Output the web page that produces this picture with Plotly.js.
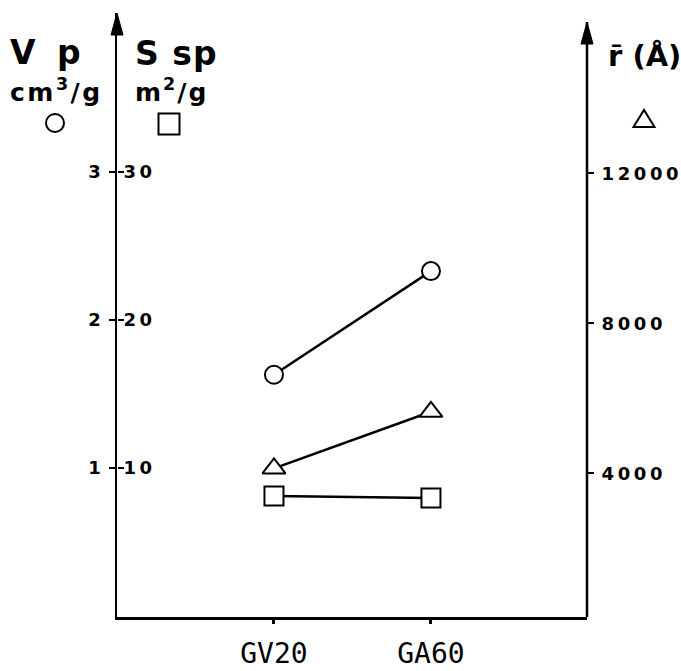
<!DOCTYPE html>
<html>
<head>
<meta charset="utf-8">
<script src="https://cdn.plot.ly/plotly-3.0.1.min.js"></script>
<style>
  html, body { margin: 0; padding: 0; background: #fff; }
  #chart { width: 681px; height: 671px; }
</style>
</head>
<body>
<div id="chart"></div>
<script>
// Samples
const samples = ['GV20', 'GA60'];
// Pore volume Vp (cm3/g)
const poreVolume = [1.63, 2.33];
// Specific surface Ssp (m2/g)
const specificSurface = [8.1, 7.97];
// Mean pore radius r (Å)
const meanRadius = [4130, 5640];

// Tick values for the three vertical scales
const vpTicks = [1, 2, 3];
const sspTicks = [10, 20, 30];
const radiusTicks = [4000, 8000, 12000];

// Digits are set slightly apart, as in a wide typeface
const spaced = v => String(v).split('').join('\u2009');

const W = 681, H = 671;
const M = { l: 117, r: 94, t: 13, b: 54 };
const plotW = W - M.l - M.r, plotH = H - M.t - M.b;
// page pixel -> paper fraction, for decorations placed around the frame
const px = x => (x - M.l) / plotW;
const py = y => (H - M.b - y) / plotH;

const boldFont = { family: 'DejaVu Sans', size: 18, color: '#000', weight: 700 };
const ink = '#000';

const openMarker = (symbol, size) => ({
  symbol: symbol, size: size, color: '#fff',
  line: { color: ink, width: 2 }
});

const traces = [
  {
    x: samples, y: poreVolume, yaxis: 'y', type: 'scatter', mode: 'lines+markers',
    line: { color: ink, width: 2.5 }, marker: openMarker('circle', 18)
  },
  {
    x: samples, y: meanRadius, yaxis: 'y3', type: 'scatter', mode: 'lines+markers',
    line: { color: ink, width: 2.5 }, marker: openMarker('triangle-up', 20)
  },
  {
    x: samples, y: specificSurface, yaxis: 'y2', type: 'scatter', mode: 'lines+markers',
    line: { color: ink, width: 2.5 }, marker: openMarker('square', 19)
  }
];

// Upward arrowhead drawn in pixels at a paper-space tip
const arrowHead = (xp, yp) => ({
  type: 'path', xref: 'paper', yref: 'paper',
  xsizemode: 'pixel', ysizemode: 'pixel', xanchor: xp, yanchor: yp,
  path: 'M 0,0 L -6,-22 L 6,-22 Z',
  fillcolor: ink, line: { color: ink, width: 1 }
});

const wide = (txt, gap) => '<span style="letter-spacing:' + gap + 'px">' + txt + '</span>';

const layout = {
  width: W, height: H,
  margin: M,
  paper_bgcolor: '#fff', plot_bgcolor: '#fff',
  showlegend: false,
  hovermode: false,
  xaxis: {
    type: 'category', range: [-1, 1.994],
    showline: true, linecolor: ink, linewidth: 2.5,
    ticks: 'outside', ticklen: 4, tickwidth: 3, tickcolor: ink,
    tickfont: { family: 'DejaVu Sans Mono', size: 28, color: '#000' },
    ticklabelstandoff: 6,
    showgrid: false, zeroline: false
  },
  yaxis: {
    range: [-0.007, 4.074],
    showline: true, linecolor: ink, linewidth: 2.5,
    ticks: 'outside', ticklen: 6, tickwidth: 2, tickcolor: ink,
    tickvals: vpTicks, ticktext: vpTicks.map(spaced),
    tickfont: boldFont, ticklabelstandoff: 4,
    showgrid: false, zeroline: false
  },
  yaxis2: {
    overlaying: 'y', anchor: 'free', position: 0, side: 'left',
    range: [-0.07, 40.74],
    showline: false,
    ticks: 'inside', ticklen: 6, tickwidth: 2, tickcolor: ink,
    ticklabelposition: 'inside',
    tickvals: sspTicks, ticktext: sspTicks.map(spaced),
    tickfont: boldFont,
    showgrid: false, zeroline: false
  },
  yaxis3: {
    overlaying: 'y', anchor: 'x', side: 'right',
    range: [168, 16275],
    showline: false,
    ticks: 'outside', ticklen: 6, tickwidth: 2, tickcolor: ink,
    tickvals: radiusTicks, ticktext: radiusTicks.map(spaced),
    tickfont: boldFont, ticklabelstandoff: 4,
    showgrid: false, zeroline: false
  },
  shapes: [
    // right-hand scale line, a little shorter than the left one
    { type: 'line', xref: 'paper', yref: 'paper', x0: 1, x1: 1, y0: 0, y1: py(22),
      line: { color: ink, width: 2.5 } },
    arrowHead(0, 1),
    arrowHead(1, py(22)),
    // symbol keys under the scale titles
    { type: 'circle', xref: 'paper', yref: 'paper', xsizemode: 'pixel', ysizemode: 'pixel',
      xanchor: px(55), yanchor: py(123), x0: -9, x1: 9, y0: -9, y1: 9,
      line: { color: ink, width: 2 } },
    { type: 'rect', xref: 'paper', yref: 'paper', xsizemode: 'pixel', ysizemode: 'pixel',
      xanchor: px(169), yanchor: py(124), x0: -10.5, x1: 10.5, y0: -10.5, y1: 10.5,
      line: { color: ink, width: 2 } },
    { type: 'path', xref: 'paper', yref: 'paper', xsizemode: 'pixel', ysizemode: 'pixel',
      xanchor: px(644), yanchor: py(119),
      path: 'M -10.5,-8 L 10.5,-8 L 0,9 Z',
      line: { color: ink, width: 2 } }
  ],
  annotations: [
    { text: wide('V p', 5), x: px(8), y: py(52), xref: 'paper', yref: 'paper',
      xanchor: 'left', yanchor: 'middle', showarrow: false,
      font: { family: 'DejaVu Sans', size: 33, weight: 700, color: '#000' } },
    { text: wide('S sp', 1), x: px(133), y: py(53), xref: 'paper', yref: 'paper',
      xanchor: 'left', yanchor: 'middle', showarrow: false,
      font: { family: 'DejaVu Sans', size: 33, weight: 700, color: '#000' } },
    { text: wide('cm<sup>3</sup>/g', 2.5), x: px(8), y: py(90), xref: 'paper', yref: 'paper',
      xanchor: 'left', yanchor: 'middle', showarrow: false,
      font: { family: 'DejaVu Sans', size: 25, weight: 700, color: '#000' } },
    { text: wide('m<sup>2</sup>/g', 2), x: px(133), y: py(90), xref: 'paper', yref: 'paper',
      xanchor: 'left', yanchor: 'middle', showarrow: false,
      font: { family: 'DejaVu Sans', size: 25, weight: 700, color: '#000' } },
    { text: 'r\u0304 (Å)', x: px(606), y: py(56), xref: 'paper', yref: 'paper',
      xanchor: 'left', yanchor: 'middle', showarrow: false,
      font: { family: 'DejaVu Sans', size: 29, weight: 700, color: '#000' } }
  ]
};

Plotly.newPlot('chart', traces, layout, { staticPlot: true, displayModeBar: false });
</script>
</body>
</html>
